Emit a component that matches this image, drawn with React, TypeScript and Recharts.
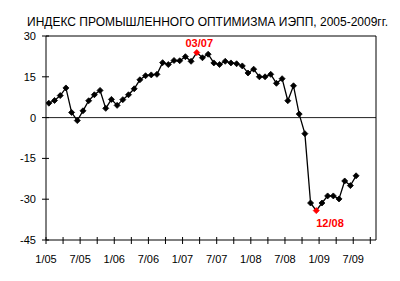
import React from 'react';
import { LineChart, Line, XAxis, YAxis, ReferenceLine } from 'recharts';

const months = [
  '1/05','2/05','3/05','4/05','5/05','6/05','7/05','8/05','9/05','10/05','11/05','12/05',
  '1/06','2/06','3/06','4/06','5/06','6/06','7/06','8/06','9/06','10/06','11/06','12/06',
  '1/07','2/07','3/07','4/07','5/07','6/07','7/07','8/07','9/07','10/07','11/07','12/07',
  '1/08','2/08','3/08','4/08','5/08','6/08','7/08','8/08','9/08','10/08','11/08','12/08',
  '1/09','2/09','3/09','4/09','5/09','6/09','7/09',
];

const values = [
  5.3, 6.3, 8.1, 10.9, 1.9, -1.1, 2.5, 6.2, 8.4, 10.0, 3.4, 6.7,
  4.5, 6.6, 8.4, 10.6, 13.9, 15.4, 15.7, 15.9, 20.2, 19.5, 21.0, 20.9,
  22.4, 20.7, 23.9, 22.0, 23.3, 20.1, 19.5, 20.7, 20.1, 19.8, 19.0, 16.4,
  17.8, 15.0, 15.0, 15.9, 12.6, 14.3, 6.2, 11.7, 1.3, -5.9, -31.4, -34.2,
  -31.4, -28.8, -28.8, -29.9, -23.3, -25.0, -21.4,
];

const highlights = ['3/07', '12/08'];
const highlightLabels = ['03/07', '12/08'];

const xTickLabels = ['1/05','7/05','1/06','7/06','1/07','7/07','1/08','7/08','1/09','7/09'];
const yTicks = [-45, -30, -15, 0, 15, 30];
const title = 'ИНДЕКС ПРОМЫШЛЕННОГО ОПТИМИЗМА ИЭПП, 2005-2009гг.';

const data = months.map((m, i) => ({ m: i + 0.5, label: m, v: values[i] }));
// minor ticks every 3 months, labeled ticks every 6 months
const xTicks = Array.from({ length: 20 }, (_, i) => i * 3);

const FONT = '"Liberation Sans", Arial, sans-serif';

const YTick = (props: any) => {
  const { x, y, payload } = props;
  return (
    <g>
      <line x1={x - 4} x2={x + 3} y1={y} y2={y} stroke="#000" strokeWidth={1} />
      <text x={x - 10} y={y} dy={4} textAnchor="end" fontSize={11} fontFamily={FONT} fill="#000">
        {payload.value}
      </text>
    </g>
  );
};

const XTick = (props: any) => {
  const { x, y, payload } = props;
  const idx = payload.value / 6;
  const label = Number.isInteger(idx) ? xTickLabels[idx] : null;
  return (
    <g>
      <line x1={x} x2={x} y1={y - 3} y2={y + 4} stroke="#000" strokeWidth={1} />
      {label && (
        <text x={x} y={y + 23} textAnchor="middle" fontSize={11} fontFamily={FONT} fill="#000">
          {label}
        </text>
      )}
    </g>
  );
};

const Dot = (props: any) => {
  const { cx, cy, payload } = props;
  if (cx == null || cy == null) return null;
  const hi = highlights.indexOf(payload.label);
  const color = hi >= 0 ? '#ff0000' : '#000';
  const s = 3;
  return (
    <g>
      <polygon
        points={`${cx},${cy - s} ${cx + s},${cy} ${cx},${cy + s} ${cx - s},${cy}`}
        fill={color}
        stroke={color}
        strokeWidth={0.8}
      />
      {hi === 0 && (
        <text x={cx + 2.5} y={cy - 5.5} textAnchor="middle" fontSize={11} fontWeight="bold" fontFamily={FONT} fill="#ff0000">
          {highlightLabels[hi]}
        </text>
      )}
      {hi === 1 && (
        <text x={cx} y={cy + 16.5} textAnchor="start" fontSize={11} fontWeight="bold" fontFamily={FONT} fill="#ff0000">
          {highlightLabels[hi]}
        </text>
      )}
    </g>
  );
};

export default function App() {
  return (
    <div style={{ position: 'absolute', left: 0, top: 0, width: 400, height: 281, background: '#fff' }}>
      <svg width={400} height={30} style={{ position: 'absolute', left: 0, top: 0 }}>
        <text x={27} y={26} fontSize={12} fontFamily={FONT} fill="#000" textLength={361} lengthAdjust="spacingAndGlyphs">
          {title}
        </text>
      </svg>
      <div style={{ position: 'absolute', left: 0, top: 0 }}>
        <LineChart width={400} height={281} data={data} margin={{ top: 36, right: 24, left: 6, bottom: 11 }}>
          <XAxis
            type="number"
            dataKey="m"
            domain={[0, 58]}
            ticks={xTicks}
            allowDataOverflow
            height={30}
            tickSize={0}
            tickMargin={0}
            tickLine={false}
            axisLine={{ stroke: '#000', strokeWidth: 1 }}
            tick={<XTick />}
            interval={0}
          />
          <YAxis
            type="number"
            domain={[-45, 30]}
            ticks={yTicks}
            allowDataOverflow
            width={40}
            tickSize={0}
            tickMargin={0}
            tickLine={false}
            axisLine={{ stroke: '#000', strokeWidth: 1 }}
            tick={<YTick />}
            interval={0}
          />
          <ReferenceLine y={0} stroke="#222" strokeWidth={1} />
          <ReferenceLine y={30} stroke="#000" strokeWidth={1} />
          <ReferenceLine x={58} stroke="#000" strokeWidth={1} />
          <Line
            type="linear"
            dataKey="v"
            stroke="#000"
            strokeWidth={1.3}
            dot={<Dot />}
            activeDot={false}
            isAnimationActive={false}
          />
        </LineChart>
      </div>
    </div>
  );
}
